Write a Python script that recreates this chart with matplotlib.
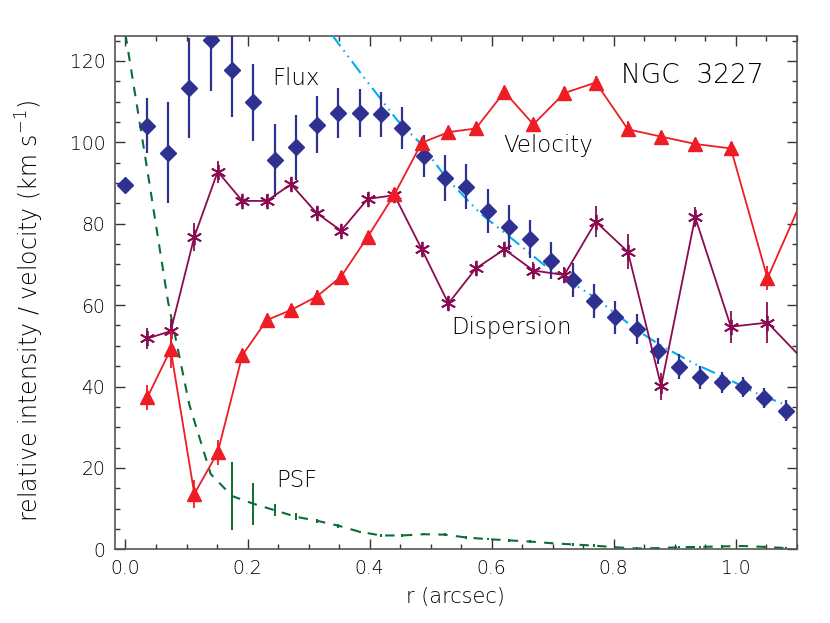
import matplotlib
matplotlib.use('Agg')
import matplotlib.pyplot as plt
from matplotlib.ticker import MultipleLocator

plt.rcParams['font.family'] = ['DejaVu Sans']
plt.rcParams['font.weight'] = 'light'
plt.rcParams['mathtext.default'] = 'regular'

# ---------------- data ----------------
flux_r = [0.0000, 0.0349, 0.0698, 0.1047, 0.1396, 0.1745, 0.2094, 0.2443,
          0.2792, 0.3141, 0.3490, 0.3839, 0.4188, 0.4537, 0.4886, 0.5235,
          0.5584, 0.5933, 0.6282, 0.6631, 0.6980, 0.7329, 0.7678, 0.8027,
          0.8376, 0.8725, 0.9074, 0.9423, 0.9772, 1.0121, 1.0470, 1.0819]
flux = [89.5, 104.1, 97.5, 113.3, 125.1, 117.7, 109.8, 95.6, 98.8, 104.3,
        107.2, 107.2, 106.9, 103.6, 96.6, 91.2, 89.1, 83.1, 79.1, 76.2,
        70.9, 66.2, 61.1, 57.0, 54.1, 48.7, 44.9, 42.3, 41.0, 39.8, 37.1, 34.1]
flux_err = [0.0, 6.7, 12.4, 12.3, 12.5, 11.4, 9.4, 9.0, 8.0, 7.0, 6.1, 6.0,
            5.5, 5.2, 5.2, 5.7, 5.6, 5.5, 5.5, 4.7, 4.5, 4.1, 4.2, 4.0, 3.6,
            3.2, 3.0, 2.8, 2.5, 2.5, 2.5, 2.5]

psf = [126.5, 94.0, 60.8, 35.5, 18.5, 13.1, 11.2, 9.6, 8.0, 7.0, 5.8, 4.3,
       3.4, 3.4, 3.7, 3.6, 2.9, 2.5, 2.2, 1.9, 1.5, 1.2, 0.9, 0.5, 0.2, 0.3,
       0.5, 0.6, 0.7, 0.8, 0.6, 0.3]
psf_err = [0.0, 0.0, 0.0, 0.0, 0.0, 8.4, 5.2, 1.5, 0.8, 0.5, 0.5, 0.3,
           0.3, 0.3, 0.3, 0.3, 0.3, 0.3, 0.3, 0.3, 0.3, 0.3, 0.3, 0.3, 0.3,
           0.3, 0.3, 0.3, 0.3, 0.3, 0.3, 0.3]

kin_r = [0.0357, 0.0741, 0.1128, 0.1511, 0.1915, 0.2315, 0.2713, 0.3134,
         0.3533, 0.3970, 0.4407, 0.4856, 0.5292, 0.5741, 0.6210, 0.6685,
         0.7192, 0.7708, 0.8233, 0.8779, 0.9336, 0.9921, 1.0521, 1.1150]
velocity = [37.3, 49.1, 13.6, 23.8, 47.7, 56.3, 58.8, 62.1, 67.0, 76.8,
            87.2, 99.9, 102.5, 103.4, 112.4, 104.4, 112.1, 114.7, 103.2,
            101.4, 99.6, 98.5, 66.6, 88.0]
velocity_err = [3.0, 4.5, 3.5, 3.0, 1.5, 1.5, 1.5, 1.5, 1.5, 1.5, 1.5, 1.5,
                1.5, 1.5, 1.5, 1.5, 1.5, 1.5, 2.0, 1.5, 1.5, 1.5, 3.0, 3.0]
dispersion = [51.8, 53.6, 76.8, 92.8, 85.6, 85.6, 89.7, 82.6, 78.3, 86.1,
              87.0, 73.7, 60.4, 69.0, 73.7, 68.5, 67.4, 80.5, 73.1, 40.1,
              81.6, 54.7, 55.7, 45.9]
dispersion_err = [2.5, 3.0, 3.5, 2.7, 1.5, 1.5, 1.5, 1.5, 1.5, 1.5, 1.5, 1.5,
                  1.5, 1.5, 1.5, 2.0, 2.0, 3.8, 4.3, 3.3, 2.5, 3.9, 5.0, 4.0]

model_r = [0.338, 0.390, 0.445, 0.483, 0.526, 0.581, 0.636, 0.690, 0.767,
           0.838, 0.876, 0.931, 0.985, 1.040, 1.076]
model = [126.5, 116.1, 105.5, 99.8, 91.2, 82.6, 76.0, 69.4, 62.1, 53.9,
         50.2, 45.7, 42.0, 37.9, 35.9]

x_ticks = [0.0, 0.2, 0.4, 0.6, 0.8, 1.0]
x_ticklabels = ['0.0', '0.2', '0.4', '0.6', '0.8', '1.0']
y_ticks = [0, 20, 40, 60, 80, 100, 120]

# ---------------- figure ----------------
W, H = 830, 623
fig = plt.figure(figsize=(W / 100, H / 100), dpi=100)
L, R, T, B = 115, 796.7, 35.7, 549.3
ax = fig.add_axes([L / W, 1 - B / H, (R - L) / W, (B - T) / H])

C_FLUX = '#2e3192'
C_VEL = '#ee1c25'
C_DISP = '#8a0b52'
C_PSF = '#0b6e33'
C_MOD = '#00aeef'
C_TXT = '#000000'

# PSF
ax.plot(flux_r, psf, color=C_PSF, lw=1.5, dashes=(4.5, 4), zorder=2)
ax.errorbar(flux_r, psf, yerr=psf_err, fmt='none', ecolor=C_PSF,
            elinewidth=1.4, capsize=0, zorder=2)

# model (dash-dot-dot)
ax.plot(model_r, model, color=C_MOD, lw=1.5,
        dashes=(7, 2.5, 0.8, 2.5, 0.8, 2.5), zorder=3)

# flux
ax.errorbar(flux_r, flux, yerr=flux_err, fmt='D', color=C_FLUX, ms=8.5,
            mec=C_FLUX, ecolor=C_FLUX, elinewidth=1.6, capsize=0, zorder=4)

# dispersion
ax.errorbar(kin_r, dispersion, yerr=dispersion_err, fmt='-', color=C_DISP,
            lw=1.3, marker=(6, 2, 0), ms=11, mew=1.3, ecolor=C_DISP,
            elinewidth=1.3, capsize=0, zorder=5)

# velocity
ax.errorbar(kin_r, velocity, yerr=velocity_err, fmt='-^', color=C_VEL,
            lw=1.3, ms=9.5, mec=C_VEL, ecolor=C_VEL, elinewidth=1.3,
            capsize=0, zorder=6)

ax.set_xlim(-0.0172, 1.1)
ax.set_ylim(0, 126.2)

ax.set_xticks(x_ticks)
ax.set_xticklabels(x_ticklabels)
ax.set_yticks(y_ticks)
ax.xaxis.set_minor_locator(MultipleLocator(0.05))
ax.yaxis.set_minor_locator(MultipleLocator(5))
ax.tick_params(which='both', direction='in', top=True, right=True,
               color='#333333', labelsize=13.5, labelcolor=C_TXT)
ax.tick_params(which='major', length=7.5, width=1.0, pad=7)
ax.tick_params(which='minor', length=3.8, width=1.0)
for s in ax.spines.values():
    s.set_color('#555555')
    s.set_linewidth(1.2)

def ftxt(px, py, s, size, ha='left', va='baseline', **kw):
    fig.text(px / W, 1 - py / H, s, fontsize=size, color=C_TXT,
             ha=ha, va=va, **kw)

ftxt(455, 597, 'r (arcsec)', 15, ha='center', va='center')
ftxt(30, 311, 'relative intensity / velocity (km s$^{-1}$)', 17,
     ha='center', va='center', rotation=90)

ftxt(272, 85, 'Flux', 16.5)
ftxt(503, 151.7, 'Velocity', 16.5)
ftxt(451, 334, 'Dispersion', 16.5)
ftxt(276, 487.3, 'PSF', 16.5)
ftxt(621, 83.3, 'NGC  3227', 19)

fig.savefig('out.png', dpi=100)
